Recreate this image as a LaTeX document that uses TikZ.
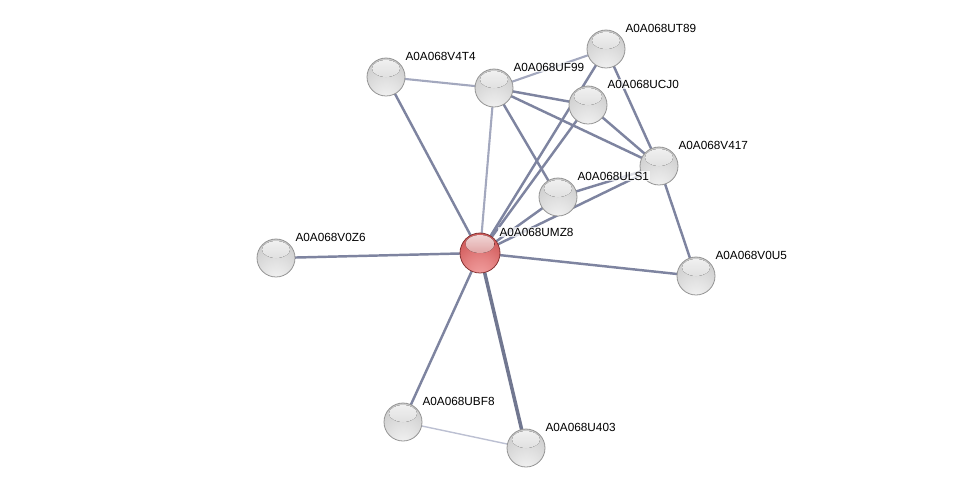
\documentclass[tikz,border=0pt]{standalone}
\usepackage{fontspec}
\setmainfont{Liberation Sans}
\usetikzlibrary{backgrounds}
\definecolor{edgegray}{HTML}{7E84A0}
\definecolor{edgelight}{HTML}{A3A8BE}
\definecolor{edgefaint}{HTML}{BCC0D2}
\definecolor{redlight}{HTML}{F4A4A4}
\definecolor{redmid}{HTML}{D46060}
\definecolor{reddark}{HTML}{A84040}
\pgfdeclareradialshading{pearlgray}{\pgfpoint{0bp}{-32bp}}{color(0bp)=(gray!8); color(18bp)=(gray!22); color(35bp)=(gray!36); color(55bp)=(gray!50); color(80bp)=(gray!62)}
\pgfdeclareradialshading{pearlred}{\pgfpoint{0bp}{-32bp}}{color(0bp)=(redlight); color(18bp)=(redlight!55!redmid); color(35bp)=(redmid); color(55bp)=(redmid!75!reddark); color(80bp)=(reddark)}

\begin{document}
\begin{tikzpicture}[
    x=0.02cm, y=-0.02cm,
    protein/.style={circle, minimum size=0.76cm, inner sep=0pt, draw=gray!85, line width=0.45pt, shading=pearlgray,
        path picture={\fill[top color=white, bottom color=gray!30, fill opacity=0.95]
            ([yshift=0.17cm]path picture bounding box.center) ellipse (0.28cm and 0.17cm);}},
    query/.style={circle, minimum size=0.8cm, inner sep=0pt, draw=reddark!80!black, line width=0.45pt, shading=pearlred,
        path picture={\fill[top color=red!10!white, bottom color=redmid!85!white, fill opacity=0.95]
            ([yshift=0.18cm]path picture bounding box.center) ellipse (0.29cm and 0.18cm);}},
    tag/.style={anchor=west, font=\fontsize{6.7}{8}\selectfont, inner sep=0.7pt, fill=white, fill opacity=0.75, text opacity=1},
    link/.style={line width=1.4pt, edgegray},
    strong/.style={line width=2pt, edgegray!90!black},
    weak/.style={line width=1.2pt, edgelight},
    faint/.style={line width=0.8pt, edgefaint}
]
\useasboundingbox (0,0) rectangle (976,494);
% Proteins
\node[query]   (umz8) at (480,253) {};
\node[protein] (v0z6) at (276,258) {};
\node[protein] (v4t4) at (386,77)  {};
\node[protein] (uf99) at (494,88)  {};
\node[protein] (ut89) at (606,49)  {};
\node[protein] (ucj0) at (588,105) {};
\node[protein] (v417) at (659,166) {};
\node[protein] (uls1) at (558,197) {};
\node[protein] (v0u5) at (696,276) {};
\node[protein] (ubf8) at (403,422) {};
\node[protein] (u403) at (526,448) {};
% Labels
\node[tag] (umz8t) at ([shift={(18,-21)}]umz8) {A0A068UMZ8};
\node[tag] (v0z6t) at ([shift={(18,-21)}]v0z6) {A0A068V0Z6};
\node[tag] (v4t4t) at ([shift={(18,-21)}]v4t4) {A0A068V4T4};
\node[tag] (uf99t) at ([shift={(18,-21)}]uf99) {A0A068UF99};
\node[tag] (ut89t) at ([shift={(18,-21)}]ut89) {A0A068UT89};
\node[tag] (ucj0t) at ([shift={(18,-21)}]ucj0) {A0A068UCJ0};
\node[tag] (v417t) at ([shift={(18,-21)}]v417) {A0A068V417};
\node[tag] (uls1t) at ([shift={(18,-21)}]uls1) {A0A068ULS1};
\node[tag] (v0u5t) at ([shift={(18,-21)}]v0u5) {A0A068V0U5};
\node[tag] (ubf8t) at ([shift={(18,-21)}]ubf8) {A0A068UBF8};
\node[tag] (u403t) at ([shift={(18,-21)}]u403) {A0A068U403};

% Interactions
\begin{scope}[on background layer]
\draw[link]   (umz8.center) -- (v0z6.center);
\draw[link]   (umz8.center) -- (v4t4.center);
\draw[weak]   (umz8.center) -- (uf99.center);
\draw[link]   (umz8.center) -- (ut89.center);
\draw[link]   (umz8.center) -- (ucj0.center);
\draw[link]   (umz8.center) -- (v417.center);
\draw[link]   (umz8.center) -- (uls1.center);
\draw[link]   (umz8.center) -- (v0u5.center);
\draw[link]   (umz8.center) -- (ubf8.center);
\draw[strong] (umz8.center) -- (u403.center);
\draw[weak]   (v4t4.center) -- (uf99.center);
\draw[weak]   (uf99.center) -- (ut89.center);
\draw[link]   (uf99.center) -- (ucj0.center);
\draw[link]   (uf99.center) -- (v417.center);
\draw[link]   (uf99.center) -- (uls1.center);
\draw[link]   (ut89.center) -- (v417.center);
\draw[link]   (ucj0.center) -- (v417.center);
\draw[link]   (uls1.center) -- (v417.center);
\draw[link]   (v417.center) -- (v0u5.center);
\draw[faint]  (ubf8.center) -- (u403.center);
\end{scope}
\end{tikzpicture}
\end{document}
